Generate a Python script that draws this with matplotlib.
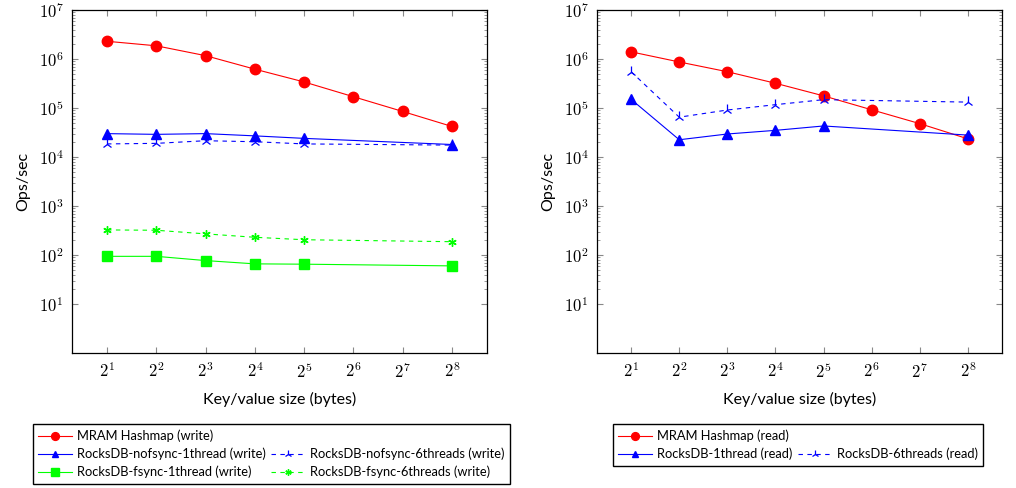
import matplotlib
matplotlib.use("Agg")
import matplotlib.pyplot as plt
from matplotlib.lines import Line2D
from matplotlib.ticker import FixedLocator, NullFormatter

plt.rcParams['font.family'] = ['Lato', 'DejaVu Sans']
plt.rcParams['mathtext.fontset'] = 'cm'

# key/value sizes (bytes)
sizes = [2, 4, 8, 16, 32, 64, 128, 256]
sizes_rocks = [2, 4, 8, 16, 32, 256]

# write throughput (ops/sec)
mram_write = [2.3e6, 1.86e6, 1.17e6, 6.2e5, 3.4e5, 1.7e5, 8.5e4, 4.2e4]
nofsync_1t_write = [3.0e4, 2.9e4, 3.0e4, 2.7e4, 2.4e4, 1.8e4]
nofsync_6t_write = [1.85e4, 1.9e4, 2.15e4, 2.05e4, 1.85e4, 1.75e4]
fsync_1t_write = [94, 94, 77, 66, 65, 60]
fsync_6t_write = [325, 320, 270, 230, 205, 187]

# read throughput (ops/sec)
mram_read = [1.4e6, 8.7e5, 5.5e5, 3.2e5, 1.77e5, 9.2e4, 4.8e4, 2.35e4]
rocks_1t_read = [1.5e5, 2.25e4, 2.95e4, 3.5e4, 4.3e4, 2.8e4]
rocks_6t_read = [5.5e5, 6.5e4, 9.1e4, 1.17e5, 1.48e5, 1.32e5]

RED = '#ff0000'
BLUE = '#0000ff'
GREEN = '#00ff00'
DASH = (0, (4, 4))

fig = plt.figure(figsize=(10.16, 4.88), dpi=100)
ax1 = fig.add_axes([0.0709, 0.2766, 0.4084, 0.7029])
ax2 = fig.add_axes([0.5876, 0.2766, 0.3986, 0.7029])


def style_axis(ax):
    ax.set_xscale('log', base=2)
    ax.set_yscale('log')
    ax.set_xlim(2 ** 0.29, 2 ** 8.71)
    ax.set_ylim(1, 1e7)
    ax.set_xticks(sizes)
    ax.set_xticklabels([r'$2^{%d}$' % k for k in range(1, 9)], fontsize=12)
    ax.xaxis.set_minor_locator(FixedLocator([]))
    ax.set_yticks([10 ** k for k in range(1, 8)])
    ax.set_yticklabels([r'$10^{%d}$' % k for k in range(1, 8)], fontsize=12)
    minors = [m * 10 ** k for k in range(1, 7) for m in range(2, 10)]
    ax.yaxis.set_minor_locator(FixedLocator(minors))
    ax.yaxis.set_minor_formatter(NullFormatter())
    ax.tick_params(which='both', direction='in', top=True, right=True,
                   color='#888888')
    ax.tick_params(which='major', length=4, width=0.8, pad=6)
    ax.tick_params(which='minor', length=2, width=0.6)
    for s in ax.spines.values():
        s.set_linewidth(0.9)
    ax.set_xlabel('Key/value size (bytes)', fontsize=11.5, labelpad=8)
    ax.set_ylabel('Ops/sec', fontsize=11.5, labelpad=6)


style_axis(ax1)
style_axis(ax2)

# write plot
l1, = ax1.plot(sizes, mram_write, color=RED, lw=0.8, marker='o', ms=7.5,
               label='MRAM Hashmap (write)')
l2, = ax1.plot(sizes_rocks, nofsync_1t_write, color=BLUE, lw=0.8, marker='^',
               ms=6.5, label='RocksDB-nofsync-1thread (write)')
l3, = ax1.plot(sizes_rocks, nofsync_6t_write, color=BLUE, lw=0.8, ls=DASH,
               marker='2', ms=8, mew=0.9, label='RocksDB-nofsync-6threads (write)')
l4, = ax1.plot(sizes_rocks, fsync_1t_write, color=GREEN, lw=0.8, marker='s',
               ms=7, label='RocksDB-fsync-1thread (write)')
l5, = ax1.plot(sizes_rocks, fsync_6t_write, color=GREEN, lw=0.8, ls=DASH,
               marker=(6, 2, 0), ms=6, mew=1.0, label='RocksDB-fsync-6threads (write)')

blank = Line2D([], [], linestyle='none', marker=None)
leg_kw = dict(ncol=2, loc='upper left', fontsize=9.3, frameon=True,
              fancybox=False, edgecolor='black', framealpha=1,
              handlelength=2.6, handletextpad=0.4, columnspacing=0.4,
              labelspacing=0.42, borderpad=0.45, borderaxespad=0,
              markerscale=0.75)
fig.legend([l1, l2, l4, blank, l3, l5],
           [l1.get_label(), l2.get_label(), l4.get_label(), '', l3.get_label(),
            l5.get_label()],
           bbox_to_anchor=(0.032, 0.131), **leg_kw)

# read plot
r1, = ax2.plot(sizes, mram_read, color=RED, lw=0.8, marker='o', ms=7.5,
               label='MRAM Hashmap (read)')
r2, = ax2.plot(sizes_rocks, rocks_1t_read, color=BLUE, lw=0.8, marker='^',
               ms=6.5, label='RocksDB-1thread (read)')
r3, = ax2.plot(sizes_rocks, rocks_6t_read, color=BLUE, lw=0.8, ls=DASH,
               marker='2', ms=8, mew=0.9, label='RocksDB-6threads (read)')

fig.legend([r1, r2, blank, r3],
           [r1.get_label(), r2.get_label(), '', r3.get_label()],
           bbox_to_anchor=(0.603, 0.131), **leg_kw)

fig.savefig('out.png', dpi=100)
